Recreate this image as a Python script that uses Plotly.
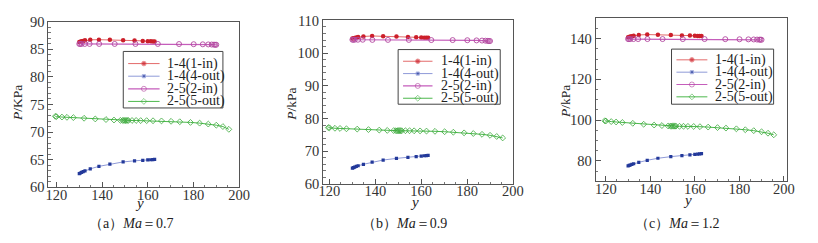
import plotly.graph_objects as go

# ---------------- data ----------------
x_in1 = [130, 130.5, 131, 131.7, 132.5, 134.8, 138.6, 143.4, 149.2, 154.2, 157.8, 160.0, 161.3, 162.2, 163]
x_out4 = [130, 130.5, 131, 131.7, 132.5, 134.8, 138.6, 143.4, 149.2, 154.2, 157.8, 160.0, 161.3, 162.2, 163]
x_in2 = [130, 130.4, 131, 132.4, 134.5, 138.7, 145.5, 154.6, 164.4, 173.7, 180.1, 184.1, 186.5, 188, 189, 189.5, 190]
x_out5 = [119.5, 120, 122.4, 124.6, 127.4, 132.1, 137, 141.7, 145.2, 148, 149, 149.5, 150, 150.5, 151, 151.5,
          153.1, 154.9, 156.9, 159.5, 162.3, 166, 170.2, 174, 178.7, 182.7, 186.5, 190, 192.9, 195.5]

# Ma = 0.7
a_in1 = [86.3, 86.35, 86.45, 86.5, 86.6, 86.7, 86.72, 86.7, 86.6, 86.55, 86.5, 86.45, 86.42, 86.4, 86.4]
a_out4 = [62.5, 62.6, 62.7, 62.85, 63.0, 63.35, 63.8, 64.2, 64.6, 64.8, 64.9, 64.97, 65.0, 65.03, 65.05]
a_in2 = [85.95, 85.95, 85.95, 85.95, 85.95, 85.95, 85.95, 85.95, 85.95, 85.93, 85.9, 85.88, 85.86, 85.84, 85.82, 85.8, 85.8]
a_out5 = [72.85, 72.8, 72.72, 72.67, 72.62, 72.5, 72.38, 72.27, 72.18, 72.12, 72.1, 72.1, 72.1, 72.1, 72.1, 72.1,
          72.1, 72.1, 72.08, 72.07, 72.05, 72.02, 71.95, 71.87, 71.75, 71.62, 71.45, 71.25, 71.0, 70.5]

# Ma = 0.9
b_in1 = [104.5, 104.55, 104.65, 104.75, 104.9, 105.1, 105.25, 105.2, 105.05, 104.95, 104.85, 104.75, 104.72, 104.7, 104.7]
b_out4 = [64.9, 65.05, 65.2, 65.4, 65.6, 66.05, 66.7, 67.35, 67.85, 68.15, 68.4, 68.55, 68.65, 68.72, 68.8]
b_in2 = [104.1, 104.1, 104.1, 104.1, 104.1, 104.05, 104.05, 104.05, 104.0, 104.0, 103.95, 103.9, 103.85, 103.8, 103.75, 103.7, 103.7]
b_out5 = [77.25, 77.2, 77.05, 77.0, 76.9, 76.8, 76.65, 76.5, 76.4, 76.35, 76.3, 76.3, 76.3, 76.3, 76.3, 76.3,
          76.3, 76.3, 76.28, 76.25, 76.2, 76.12, 76.0, 75.85, 75.65, 75.45, 75.2, 74.9, 74.55, 74.1]

# Ma = 1.2
c_in1 = [140.7, 140.8, 141.0, 141.2, 141.4, 141.8, 142.0, 141.95, 141.8, 141.6, 141.5, 141.4, 141.35, 141.3, 141.3]
c_out4 = [77.6, 77.8, 78.0, 78.3, 78.6, 79.3, 80.3, 81.3, 82.1, 82.6, 83.0, 83.2, 83.35, 83.45, 83.55]
c_in2 = [139.8, 139.8, 139.8, 139.8, 139.8, 139.8, 139.8, 139.8, 139.8, 139.75, 139.7, 139.65, 139.6, 139.55, 139.5, 139.5, 139.45]
c_out5 = [99.7, 99.6, 99.3, 99.1, 98.85, 98.45, 98.0, 97.6, 97.35, 97.15, 97.1, 97.1, 97.05, 97.05, 97.05, 97.05,
          97.0, 97.0, 96.95, 96.9, 96.8, 96.6, 96.35, 96.1, 95.75, 95.3, 94.85, 94.3, 93.6, 92.8]

series_names = ["1-4(1-in)", "1-4(4-out)", "2-5(2-in)", "2-5(5-out)"]
y_ranges = [[60, 90], [60, 110], [70, 150]]
x_ranges = [[116.5, 200], [117.2, 200], [115.4, 201.4]]
y_dticks = [5, 10, 20]
y_titles = ["<i>P</i>/KPa", "<i>P</i>/kPa", "<i>P</i>/kPa"]
captions = ["（a）<i>Ma</i>＝0.7", "（b）<i>Ma</i>＝0.9", "（c）<i>Ma</i>＝1.2"]

panels = [
    (x_in1, a_in1, x_out4, a_out4, x_in2, a_in2, x_out5, a_out5),
    (x_in1, b_in1, x_out4, b_out4, x_in2, b_in2, x_out5, b_out5),
    (x_in1, c_in1, x_out4, c_out4, x_in2, c_in2, x_out5, c_out5),
]

# ---------------- layout geometry (pixels) ----------------
W, H = 818, 243
frames = [(45.3, 239.5, 14.5, 192), (325, 518.5, 13.3, 188.5), (602.7, 797.5, 11, 185.5)]
legend_boxes = [(121.5, 223, 46.5, 107), (401.5, 505.5, 44.5, 103), (680, 784, 44, 103)]
leg_line = [(5, 37, 42), (5, 35, 42), (5, 36.5, 42)]
leg_rows = [(13, 13.5), (12.5, 13.2), (11.5, 13.2)]
ytitle_pos = [(14, 102), (293, 103), (572, 100)]
xtitle_pos = [(138, 209), (418, 208), (696, 205)]
caption_pos = [(129, 231), (408, 230.5), (686, 231)]

FONT = "Liberation Serif"
styles = [
    dict(line=dict(color="#e36a6a", width=1), marker=dict(symbol="circle", size=4.5, color="#cc1f2a")),
    dict(line=dict(color="#8f9ad8", width=1), marker=dict(symbol="square", size=3.2, color="#23399a")),
    dict(line=dict(color="#c55dbb", width=1.2), marker=dict(symbol="circle-open", size=5, color="#b2479f", line=dict(width=0.9))),
    dict(line=dict(color="#4cb84c", width=1), marker=dict(symbol="diamond-open", size=4.5, color="#3aa83a", line=dict(width=0.8))),
]

fig = go.Figure()
annotations = []
shapes = []


def paper_text(text, px, py, size, angle=0):
    return dict(text=text, x=px / W, y=1 - py / H, xref="paper", yref="paper",
                xanchor="center", yanchor="middle", showarrow=False, textangle=angle,
                font=dict(family=FONT, size=size, color="#222"))


for i, data in enumerate(panels):
    sfx = "" if i == 0 else str(i + 1)
    xa, ya = "x" + sfx, "y" + sfx
    for k in range(4):
        fig.add_trace(go.Scatter(
            x=data[2 * k], y=data[2 * k + 1], mode="lines+markers",
            name=series_names[k], xaxis=xa, yaxis=ya, showlegend=False,
            **styles[k]))
    x0, x1, y0, y1 = frames[i]
    axis_common = dict(
        showline=True, mirror=True, linecolor="#555", linewidth=1,
        ticks="inside", ticklen=5, tickcolor="#555", showgrid=False, zeroline=False,
        tickfont=dict(family=FONT, size=14.5, color="#333"),
        minor=dict(ticks="inside", ticklen=2.5, tickcolor="#777", showgrid=False),
    )
    fig.layout["xaxis" + sfx] = dict(
        domain=[x0 / W, x1 / W], anchor=ya, range=x_ranges[i], dtick=20, tick0=0,
        ticklabelstandoff=-6, **axis_common)
    fig.layout["yaxis" + sfx] = dict(
        domain=[1 - y1 / H, 1 - y0 / H], anchor=xa, range=y_ranges[i], dtick=y_dticks[i], tick0=0,
        **axis_common)

    # ---- legend drawn on its own hidden axes (pixel units inside the box) ----
    bl, br, bt, bb = legend_boxes[i]
    lsfx = str(i + 4)
    lxa, lya = "x" + lsfx, "y" + lsfx
    fig.layout["xaxis" + lsfx] = dict(domain=[bl / W, br / W], range=[0, br - bl], visible=False,
                                     anchor=lya, fixedrange=True)
    fig.layout["yaxis" + lsfx] = dict(domain=[1 - bb / H, 1 - bt / H], range=[bb - bt, 0], visible=False,
                                     anchor=lxa, fixedrange=True)
    shapes.append(dict(type="rect", xref="paper", yref="paper", x0=bl / W, x1=br / W,
                       y0=1 - bb / H, y1=1 - bt / H, line=dict(color="#444", width=1),
                       fillcolor="white", layer="below"))
    ls, le, ts = leg_line[i]
    r0, rstep = leg_rows[i]
    for k in range(4):
        ry = r0 + k * rstep
        st = styles[k]
        mk = dict(st["marker"])
        mk["size"] = [0, mk["size"], 0]
        fig.add_trace(go.Scatter(x=[ls, (ls + le) / 2, le], y=[ry, ry, ry], mode="lines+markers",
                                 line=st["line"], marker=mk, xaxis=lxa, yaxis=lya,
                                 showlegend=False, hoverinfo="skip"))
        annotations.append(dict(text=series_names[k], x=ts, y=ry, xref=lxa, yref=lya,
                                xanchor="left", yanchor="middle", showarrow=False,
                                font=dict(family=FONT, size=14, color="#222")))

    annotations.append(paper_text(y_titles[i], *ytitle_pos[i], 13.5, -90))
    annotations.append(paper_text("<i>y</i>", *xtitle_pos[i], 15))
    annotations.append(paper_text(captions[i], *caption_pos[i], 14))

fig.update_layout(
    width=W, height=H, margin=dict(l=0, r=0, t=0, b=0),
    paper_bgcolor="white", plot_bgcolor="rgba(0,0,0,0)",
    showlegend=False, annotations=annotations, shapes=shapes,
)

fig.write_html("out.html", config={"displayModeBar": False},
               post_script="document.body.style.margin='0';document.body.style.overflow='hidden';")
